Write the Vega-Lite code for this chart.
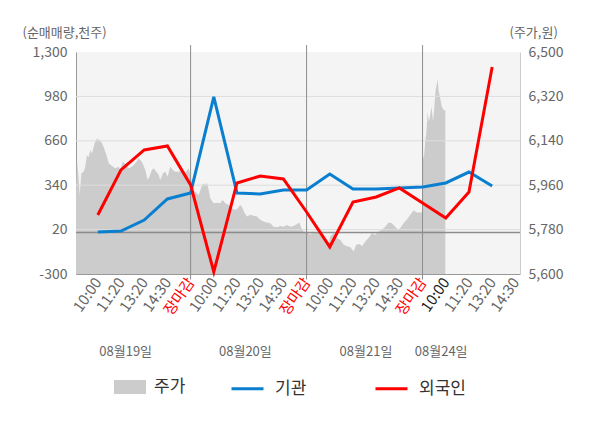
{
  "$schema": "https://vega.github.io/schema/vega-lite/v6.json",
  "width": 444,
  "height": 222,
  "autosize": "none",
  "padding": {"left": 76, "top": 52, "right": 80, "bottom": 154},
  "background": "#ffffff",
  "config": {
    "font": "Noto Sans CJK KR",
    "view": {"fill": "#f4f4f4", "stroke": null},
    "axis": {"labelFont": "Noto Sans CJK KR", "titleFont": "Noto Sans CJK KR", "labelColor": "#666666", "titleColor": "#666666", "titleFontWeight": "normal", "labelFontSize": 14, "titleFontSize": 13, "grid": false, "ticks": false},
    "legend": {"labelFont": "Noto Sans CJK KR", "labelFontSize": 17, "labelColor": "#333333", "padding": 0}
  },
  "datasets": {
    "price": [
      {"t": 0.06, "p": 5941}, {"t": 0.10, "p": 6059}, {"t": 0.17, "p": 5995}, {"t": 0.22, "p": 5920},
      {"t": 0.29, "p": 6008}, {"t": 0.39, "p": 6015}, {"t": 0.46, "p": 6035}, {"t": 0.53, "p": 6082},
      {"t": 0.60, "p": 6073}, {"t": 0.68, "p": 6103}, {"t": 0.75, "p": 6089}, {"t": 0.82, "p": 6116},
      {"t": 0.89, "p": 6136}, {"t": 0.96, "p": 6148}, {"t": 1.08, "p": 6143}, {"t": 1.18, "p": 6130},
      {"t": 1.25, "p": 6116}, {"t": 1.37, "p": 6082}, {"t": 1.47, "p": 6049}, {"t": 1.61, "p": 6038},
      {"t": 1.75, "p": 6029}, {"t": 1.90, "p": 6035}, {"t": 1.97, "p": 6022}, {"t": 2.08, "p": 6055},
      {"t": 2.19, "p": 6046}, {"t": 2.33, "p": 6029}, {"t": 2.47, "p": 6035}, {"t": 2.62, "p": 6049},
      {"t": 2.76, "p": 6069}, {"t": 2.90, "p": 6055}, {"t": 3.05, "p": 6022}, {"t": 3.15, "p": 5981},
      {"t": 3.23, "p": 5995}, {"t": 3.33, "p": 6022}, {"t": 3.41, "p": 6029}, {"t": 3.52, "p": 6015},
      {"t": 3.62, "p": 6002}, {"t": 3.69, "p": 5981}, {"t": 3.81, "p": 6008}, {"t": 3.91, "p": 6015},
      {"t": 4.01, "p": 5995}, {"t": 4.12, "p": 6035}, {"t": 4.24, "p": 6022}, {"t": 4.34, "p": 6015},
      {"t": 4.48, "p": 6015}, {"t": 4.63, "p": 6022}, {"t": 4.77, "p": 6008}, {"t": 4.92, "p": 6029},
      {"t": 5.00, "p": 5995}, {"t": 5.13, "p": 5941}, {"t": 5.35, "p": 5920}, {"t": 5.49, "p": 5960},
      {"t": 5.56, "p": 5968}, {"t": 5.63, "p": 5961}, {"t": 5.71, "p": 5970}, {"t": 5.78, "p": 5941},
      {"t": 5.85, "p": 5907}, {"t": 5.99, "p": 5887}, {"t": 6.14, "p": 5889}, {"t": 6.28, "p": 5887},
      {"t": 6.38, "p": 5900}, {"t": 6.50, "p": 5887}, {"t": 6.64, "p": 5880}, {"t": 6.75, "p": 5873},
      {"t": 6.85, "p": 5860}, {"t": 7.00, "p": 5863}, {"t": 7.14, "p": 5880}, {"t": 7.21, "p": 5873},
      {"t": 7.33, "p": 5847}, {"t": 7.43, "p": 5833}, {"t": 7.57, "p": 5840}, {"t": 7.72, "p": 5836},
      {"t": 7.86, "p": 5833}, {"t": 8.00, "p": 5820}, {"t": 8.15, "p": 5813}, {"t": 8.29, "p": 5809},
      {"t": 8.44, "p": 5806}, {"t": 8.58, "p": 5792}, {"t": 8.72, "p": 5790}, {"t": 8.87, "p": 5795},
      {"t": 9.01, "p": 5792}, {"t": 9.15, "p": 5799}, {"t": 9.30, "p": 5792}, {"t": 9.44, "p": 5795},
      {"t": 9.58, "p": 5802}, {"t": 9.69, "p": 5809}, {"t": 9.77, "p": 5786}, {"t": 9.87, "p": 5772},
      {"t": 10.00, "p": 5770}, {"t": 10.09, "p": 5766}, {"t": 10.16, "p": 5759}, {"t": 10.26, "p": 5772},
      {"t": 10.38, "p": 5766}, {"t": 10.52, "p": 5766}, {"t": 10.66, "p": 5746}, {"t": 10.81, "p": 5726},
      {"t": 10.95, "p": 5719}, {"t": 11.02, "p": 5752}, {"t": 11.17, "p": 5766}, {"t": 11.31, "p": 5746},
      {"t": 11.45, "p": 5739}, {"t": 11.60, "p": 5719}, {"t": 11.74, "p": 5712}, {"t": 11.88, "p": 5709},
      {"t": 12.03, "p": 5691}, {"t": 12.14, "p": 5719}, {"t": 12.29, "p": 5722}, {"t": 12.39, "p": 5712},
      {"t": 12.53, "p": 5732}, {"t": 12.67, "p": 5746}, {"t": 12.82, "p": 5766}, {"t": 12.96, "p": 5759},
      {"t": 13.10, "p": 5772}, {"t": 13.25, "p": 5779}, {"t": 13.39, "p": 5792}, {"t": 13.54, "p": 5809},
      {"t": 13.68, "p": 5806}, {"t": 13.82, "p": 5792}, {"t": 13.94, "p": 5779}, {"t": 14.04, "p": 5786},
      {"t": 14.18, "p": 5806}, {"t": 14.32, "p": 5820}, {"t": 14.47, "p": 5840}, {"t": 14.61, "p": 5857},
      {"t": 14.76, "p": 5849}, {"t": 14.99, "p": 5849}, {"t": 15.02, "p": 6070}, {"t": 15.07, "p": 6082},
      {"t": 15.12, "p": 6143}, {"t": 15.16, "p": 6170}, {"t": 15.22, "p": 6257}, {"t": 15.27, "p": 6217},
      {"t": 15.33, "p": 6244}, {"t": 15.39, "p": 6278}, {"t": 15.45, "p": 6217}, {"t": 15.50, "p": 6264},
      {"t": 15.56, "p": 6345}, {"t": 15.62, "p": 6372}, {"t": 15.65, "p": 6392}, {"t": 15.69, "p": 6345},
      {"t": 15.76, "p": 6312}, {"t": 15.83, "p": 6278}, {"t": 15.92, "p": 6264}, {"t": 15.98, "p": 6264}
    ],
    "flows": [
      {"k": 1, "s": "기관", "v": 3}, {"k": 2, "s": "기관", "v": 10}, {"k": 3, "s": "기관", "v": 89},
      {"k": 4, "s": "기관", "v": 241}, {"k": 5, "s": "기관", "v": 284}, {"k": 6, "s": "기관", "v": 976},
      {"k": 7, "s": "기관", "v": 284}, {"k": 8, "s": "기관", "v": 277}, {"k": 9, "s": "기관", "v": 305},
      {"k": 10, "s": "기관", "v": 305}, {"k": 11, "s": "기관", "v": 421}, {"k": 12, "s": "기관", "v": 313},
      {"k": 13, "s": "기관", "v": 313}, {"k": 14, "s": "기관", "v": 320}, {"k": 15, "s": "기관", "v": 327},
      {"k": 16, "s": "기관", "v": 356}, {"k": 17, "s": "기관", "v": 435}, {"k": 18, "s": "기관", "v": 334},
      {"k": 1, "s": "외국인", "v": 125}, {"k": 2, "s": "외국인", "v": 450}, {"k": 3, "s": "외국인", "v": 594},
      {"k": 4, "s": "외국인", "v": 623}, {"k": 5, "s": "외국인", "v": 342}, {"k": 6, "s": "외국인", "v": -285},
      {"k": 7, "s": "외국인", "v": 356}, {"k": 8, "s": "외국인", "v": 406}, {"k": 9, "s": "외국인", "v": 385},
      {"k": 10, "s": "외국인", "v": 147}, {"k": 11, "s": "외국인", "v": -105}, {"k": 12, "s": "외국인", "v": 219},
      {"k": 13, "s": "외국인", "v": 255}, {"k": 14, "s": "외국인", "v": 320}, {"k": 15, "s": "외국인", "v": 212},
      {"k": 16, "s": "외국인", "v": 104}, {"k": 17, "s": "외국인", "v": 291}, {"k": 18, "s": "외국인", "v": 1192}
    ],
    "hgrid": [{"g": 20}, {"g": 340}, {"g": 660}, {"g": 980}],
    "zeroline": [{"g": 0}],
    "days": [{"d": 5}, {"d": 10}, {"d": 15}]
  },
  "layer": [
    {
      "data": {"name": "price"},
      "mark": {"type": "area", "color": "#cccccc", "opacity": 1},
      "encoding": {
        "x": {
          "field": "t", "type": "quantitative",
          "scale": {"domain": [0.06, 19.2], "nice": false, "zero": false},
          "axis": {
            "title": null, "values": [1, 2, 3, 4, 5, 6, 7, 8, 9, 10, 11, 12, 13, 14, 15, 16, 17, 18, 19],
            "labelExpr": "['','10:00','11:20','13:20','14:30','장마감','10:00','11:20','13:20','14:30','장마감','10:00','11:20','13:20','14:30','장마감','10:00','11:20','13:20','14:30'][datum.value]",
            "labelAngle": -55, "labelAlign": "right", "labelBaseline": "middle", "labelPadding": 5, "labelFontSize": 15,
            "labelColor": {"condition": [{"test": "datum.value % 5 == 0", "value": "#ff0000"}, {"test": "datum.value == 16", "value": "#222222"}], "value": "#666666"},
            "labelOverlap": false, "labelFlush": false, "domainColor": "#999999"
          }
        },
        "y": {
          "field": "p", "type": "quantitative",
          "scale": {"domain": [5600, 6500], "nice": false, "zero": false},
          "axis": {
            "orient": "right", "values": [5600, 5780, 5960, 6140, 6320, 6500], "labelExpr": "format(datum.value, ',')",
            "labelPadding": 8, "domainColor": "#cccccc",
            "title": "(주가,원)", "titleAngle": 0, "titleAlign": "left", "titleBaseline": "middle", "titleX": -11, "titleY": -20
          }
        },
        "y2": {"datum": 5600},
        "fill": {
          "datum": "주가", "type": "nominal",
          "scale": {"range": ["#cccccc"]},
          "legend": {"orient": "none", "legendX": 38, "legendY": 319, "title": null, "symbolType": "M-1,-0.44H1V0.44H-1Z", "symbolSize": 1024, "symbolFillColor": "#cccccc", "symbolOpacity": 1, "symbolStrokeWidth": 0, "labelOffset": 8}
        }
      }
    },
    {
      "data": {"name": "hgrid"},
      "mark": {"type": "rule", "color": "#dddddd", "strokeWidth": 1},
      "encoding": {
        "y": {"field": "g", "type": "quantitative", "scale": {"domain": [-300, 1300], "nice": false, "zero": false}, "axis": null}
      }
    },
    {
      "data": {"name": "zeroline"},
      "mark": {"type": "rule", "color": "#8c8c8c", "strokeWidth": 1.5},
      "encoding": {
        "y": {"field": "g", "type": "quantitative", "scale": {"domain": [-300, 1300], "nice": false, "zero": false}, "axis": null}
      }
    },
    {
      "data": {"name": "days"},
      "mark": {"type": "rule", "color": "#8c8c8c", "strokeWidth": 1},
      "encoding": {
        "x": {"field": "d", "type": "quantitative", "scale": {"domain": [0.06, 19.2], "nice": false, "zero": false}, "axis": null},
        "y": {"datum": 1350, "type": "quantitative", "scale": {"domain": [-300, 1300], "nice": false, "zero": false}, "axis": null},
        "y2": {"datum": -340}
      }
    },
    {
      "data": {"name": "flows"},
      "mark": {"type": "line", "strokeWidth": 3},
      "encoding": {
        "x": {
          "field": "k", "type": "quantitative",
          "scale": {"domain": [0.06, 19.2], "nice": false, "zero": false},
          "axis": {
            "title": null, "orient": "bottom", "offset": 77, "domain": false, "values": [2.18, 7.34, 12.54, 15.78],
            "labelExpr": "datum.value < 5 ? '08월19일' : datum.value < 10 ? '08월20일' : datum.value < 15 ? '08월21일' : '08월24일'",
            "labelFontSize": 13, "labelAngle": 0, "labelAlign": "center", "labelBaseline": "middle", "labelPadding": 0, "labelFlush": false, "labelOverlap": false
          }
        },
        "y": {
          "field": "v", "type": "quantitative",
          "scale": {"domain": [-300, 1300], "nice": false, "zero": false},
          "axis": {
            "orient": "left", "values": [-300, 20, 340, 660, 980, 1300], "labelExpr": "replace(format(datum.value, ','), '\u2212', '-')",
            "labelPadding": 9, "domainColor": "#999999",
            "title": "(순매매량,천주)", "titleAngle": 0, "titleAlign": "left", "titleBaseline": "middle", "titleX": -54, "titleY": -20
          }
        },
        "stroke": {
          "field": "s", "type": "nominal",
          "scale": {"domain": ["기관", "외국인"], "range": ["#0b7fcf", "#ff0000"]},
          "legend": {"orient": "none", "legendX": 154, "legendY": 319, "direction": "horizontal", "title": null, "symbolType": "stroke", "symbolSize": 1024, "symbolStrokeWidth": 3, "labelOffset": 10, "columnPadding": 62}
        }
      }
    }
  ],
  "resolve": {"scale": {"y": "independent"}, "axis": {"x": "independent"}}
}
